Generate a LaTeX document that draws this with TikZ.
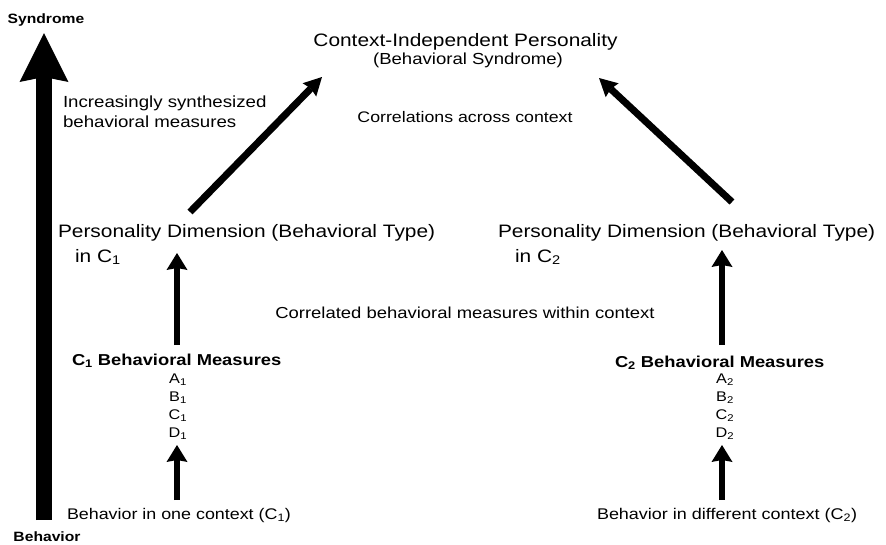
\documentclass[tikz,border=0pt]{standalone}
\usepackage{fontspec}
\setmainfont[FakeStretch=1.16]{Liberation Sans}
\usetikzlibrary{arrows.meta}
\begin{document}
\begin{tikzpicture}[x=1pt,y=-1pt,
  t/.style={inner sep=0pt, outer sep=0pt},
  fs/.style={font=\fontsize{#1}{#1}\selectfont},
  fsb/.style={font=\fontsize{#1}{#1}\bfseries\selectfont},
  arr/.style={line width=6.5pt, -{Stealth[length=17pt,width=21pt,inset=2pt,line width=0pt]}},
  darr/.style={line width=7pt, -{Stealth[length=18pt,width=19pt,inset=2pt,line width=0pt]}},
  bigarr/.style={line width=16pt, -{Stealth[length=49pt,width=49pt,inset=5pt,line width=0pt]}}
]
\useasboundingbox (0,0) rectangle (886,544);

% texts
\node[t,fsb=13.5,anchor=base] (syn) at (46,23) {Syndrome};
\node[t,fsb=13.5,anchor=base] (beh) at (47,541) {Behavior};
\node[t,fs=18,anchor=base] (cip) at (465.5,46) {Context-Independent Personality};
\node[t,fs=16,anchor=base] (bsyn) at (468,64) {(Behavioral Syndrome)};
\node[t,fs=15.3,anchor=base] (corr) at (465,122) {Correlations across context};
\node[t,fs=16.1,anchor=base west] (inc1) at (63,107) {Increasingly synthesized};
\node[t,fs=16.1,anchor=base west] (inc2) at (63,127) {behavioral measures};
\node[t,fs=18,anchor=base west] (pd1) at (58,237) {Personality Dimension (Behavioral Type)};
\node[t,fs=18,anchor=base west] (in1) at (75,262) {in C\textsubscript{1}};
\node[t,fs=18,anchor=base west] (pd2) at (498,237) {Personality Dimension (Behavioral Type)};
\node[t,fs=18,anchor=base west] (in2) at (515,262) {in C\textsubscript{2}};
\node[t,fs=15.9,anchor=base] (cwc) at (465,318) {Correlated behavioral measures within context};
\node[t,fsb=15.8,anchor=base west] (bm1) at (72,365) {C\textsubscript{1} Behavioral Measures};
\node[t,fsb=15.8,anchor=base west] (bm2) at (615,367) {C\textsubscript{2} Behavioral Measures};
\node[t,fs=14,anchor=base] (a1) at (178,383) {A\textsubscript{1}};
\node[t,fs=14,anchor=base] (b1) at (178,401) {B\textsubscript{1}};
\node[t,fs=14,anchor=base] (c1) at (178,419) {C\textsubscript{1}};
\node[t,fs=14,anchor=base] (d1) at (178,437) {D\textsubscript{1}};
\node[t,fs=14,anchor=base] (a2) at (725,383) {A\textsubscript{2}};
\node[t,fs=14,anchor=base] (b2) at (725,401) {B\textsubscript{2}};
\node[t,fs=14,anchor=base] (c2) at (725,419) {C\textsubscript{2}};
\node[t,fs=14,anchor=base] (d2) at (725,437) {D\textsubscript{2}};
\node[t,fs=15.4,anchor=base west] (bic1) at (67,519) {Behavior in one context (C\textsubscript{1})};
\node[t,fs=15.5,anchor=base west] (bic2) at (597,519) {Behavior in different context (C\textsubscript{2})};

% connector end points
\coordinate (bigS) at (44,520);
\coordinate (bigE) at (44,33);
\coordinate (dlS) at (190,212);
\coordinate (dlE) at (322,77);
\coordinate (drS) at (732,202);
\coordinate (drE) at (599,78);
\coordinate (v1uS) at (177,345);
\coordinate (v1uE) at (177,253);
\coordinate (v1lS) at (177,500);
\coordinate (v1lE) at (177,445);
\coordinate (v2uS) at (722,345);
\coordinate (v2uE) at (722,250);
\coordinate (v2lS) at (722,500);
\coordinate (v2lE) at (722,445);

\draw[bigarr] (bigS) -- (bigE);
\draw[darr] (dlS) -- (dlE);
\draw[darr] (drS) -- (drE);
\draw[arr] (v1uS) -- (v1uE);
\draw[arr] (v1lS) -- (v1lE);
\draw[arr] (v2uS) -- (v2uE);
\draw[arr] (v2lS) -- (v2lE);
\end{tikzpicture}
\end{document}
